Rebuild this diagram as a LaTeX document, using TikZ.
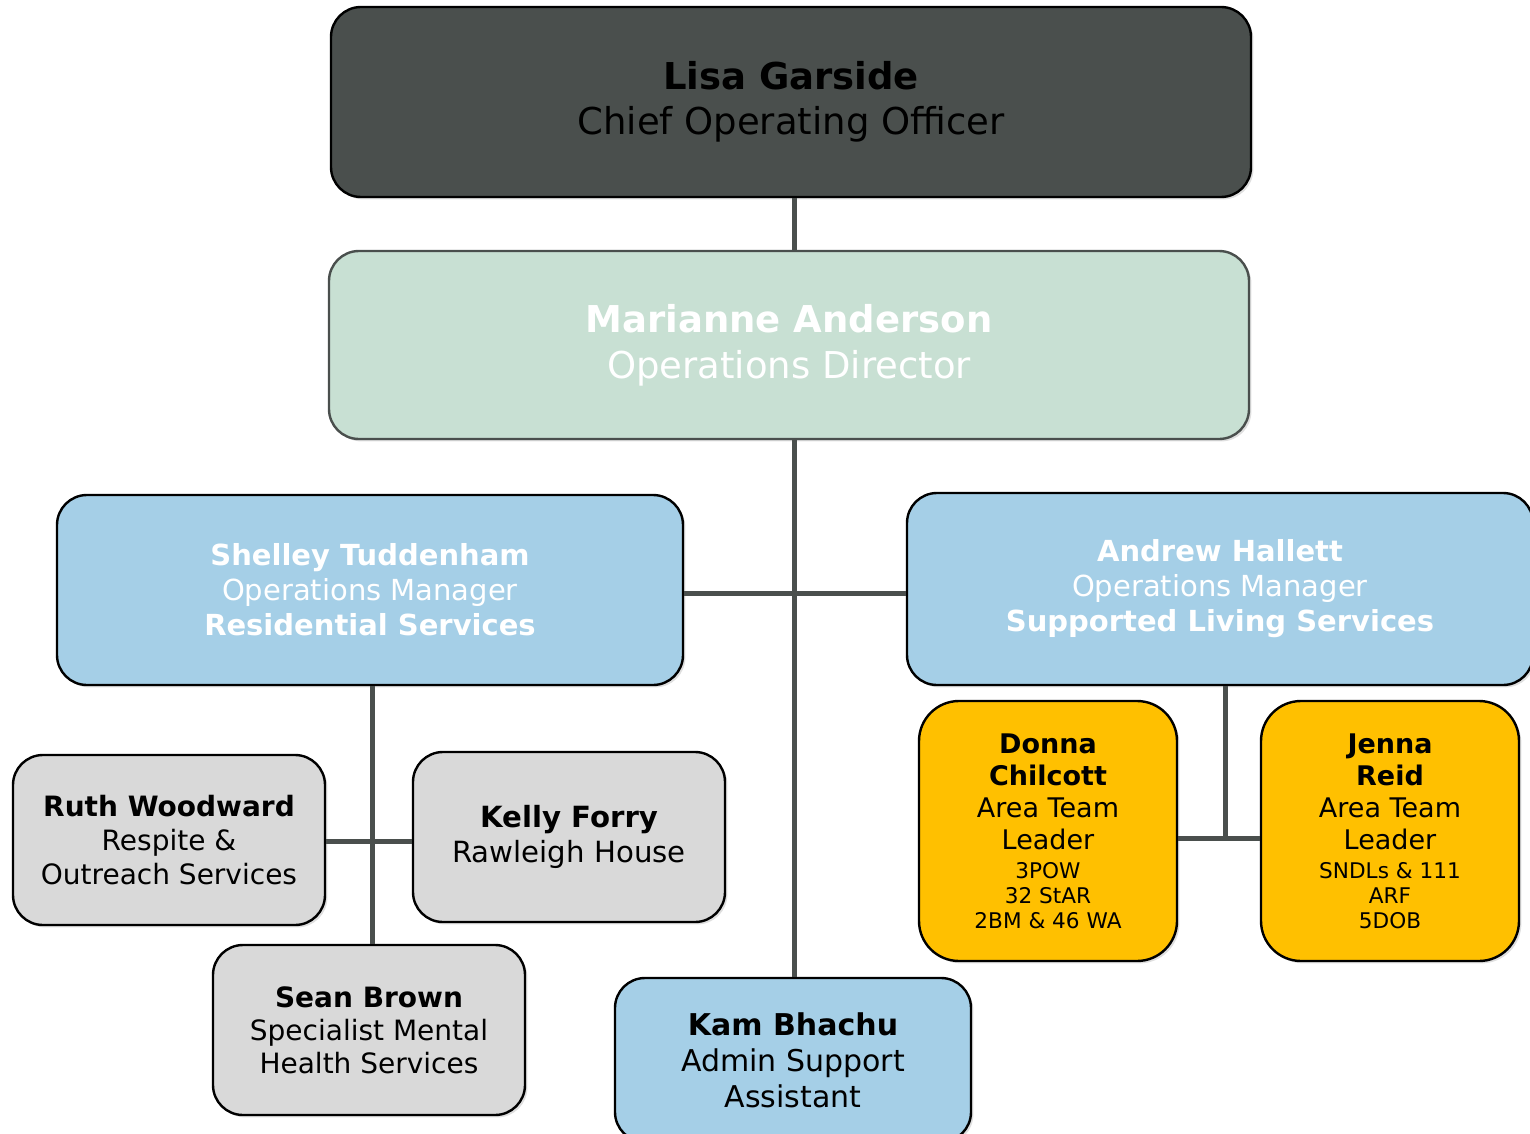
\documentclass[tikz,border=0pt]{standalone}
\usepackage{fontspec}
\setmainfont{DejaVu Sans}
\usetikzlibrary{shadows}
\definecolor{darkbox}{HTML}{4A4F4D}
\definecolor{greenbox}{HTML}{C8E0D3}
\definecolor{bluebox}{HTML}{A5CFE7}
\definecolor{greybox}{HTML}{D9D9D9}
\definecolor{yellowbox}{HTML}{FFC000}
\definecolor{linkcol}{HTML}{4A4F4D}
\newcommand{\smallline}{\fontsize{10.8}{12.5}\selectfont}
\tikzset{
  box/.style={draw=black, line width=1.2pt, rounded corners=15pt, align=center, inner sep=0pt,
    drop shadow={shadow xshift=1.2pt, shadow yshift=-1.2pt, opacity=0.25}},
  link/.style={draw=linkcol, line width=2.5pt},
}
\begin{document}
\begin{tikzpicture}[x=0.5pt,y=-0.5pt]
\useasboundingbox (0,0) rectangle (1530,1134);
% boxes
\node[box, fill=darkbox, minimum width=460pt, minimum height=95pt,
  font=\fontsize{18.5}{22.5}\selectfont] (lisa) at (791,102)
  {{\bfseries Lisa Garside}\\Chief Operating Officer};
\node[box, fill=greenbox, draw=darkbox, minimum width=460pt, minimum height=94pt, text=white,
  font=\fontsize{18.5}{23}\selectfont] (mari) at (789,345)
  {{\bfseries Marianne Anderson}\\Operations Director};
\node[box, fill=bluebox, minimum width=313pt, minimum height=95pt, text=white,
  font=\fontsize{14.5}{17.5}\selectfont] (shel) at (370,590)
  {{\bfseries Shelley Tuddenham}\\Operations Manager\\{\bfseries Residential Services}};
\node[box, fill=bluebox, minimum width=313pt, minimum height=96pt, text=white,
  font=\fontsize{14.5}{17.5}\selectfont] (andr) at (1220,589)
  {{\bfseries Andrew Hallett}\\Operations Manager\\{\bfseries Supported Living Services}};
\node[box, fill=greybox, minimum width=156pt, minimum height=85pt,
  font=\fontsize{14}{17}\selectfont] (ruth) at (169,840)
  {{\bfseries Ruth Woodward}\\Respite \&\\Outreach Services};
\node[box, fill=greybox, minimum width=156pt, minimum height=85pt,
  font=\fontsize{14.6}{17.5}\selectfont] (kell) at (569,837)
  {{\bfseries Kelly Forry}\\Rawleigh House};
\node[box, fill=greybox, minimum width=156pt, minimum height=85pt,
  font=\fontsize{14}{16.5}\selectfont] (sean) at (369,1030)
  {{\bfseries Sean Brown}\\Specialist Mental\\Health Services};
\node[box, fill=bluebox, minimum width=178pt, minimum height=82pt,
  font=\fontsize{15}{18}\selectfont] (kam) at (793,1060)
  {{\bfseries Kam Bhachu}\\Admin Support\\Assistant};
\node[box, fill=yellowbox, rounded corners=20pt, minimum width=129pt, minimum height=130pt,
  font=\fontsize{13.5}{16}\selectfont] (donn) at (1048,831)
  {{\bfseries Donna}\\{\bfseries Chilcott}\\Area Team\\Leader\\[-1.5pt]
   \smallline 3POW\\[-3.5pt]\smallline 32 StAR\\[-3.5pt]\smallline 2BM \& 46 WA};
\node[box, fill=yellowbox, rounded corners=20pt, minimum width=129pt, minimum height=130pt,
  font=\fontsize{13.5}{16}\selectfont] (jenn) at (1390,831)
  {{\bfseries Jenna}\\{\bfseries Reid}\\Area Team\\Leader\\[-1.5pt]
   \smallline SNDLs \& 111\\[-3.5pt]\smallline ARF\\[-3.5pt]\smallline 5DOB};
% connectors
\coordinate (j1) at (794,593);
\coordinate (j2) at (372,841);
\coordinate (j3) at (1225,838);
\path[link] (lisa.south -| j1) -- (mari.north -| j1);
\path[link] (mari.south -| j1) -- (kam.north -| j1);
\path[link] (shel.east |- j1) -- (andr.west |- j1);
\path[link] (shel.south -| j2) -- (sean.north -| j2);
\path[link] (ruth.east |- j2) -- (kell.west |- j2);
\path[link] (andr.south -| j3) -- (j3);
\path[link] (donn.east |- j3) -- (jenn.west |- j3);
\end{tikzpicture}
\end{document}
